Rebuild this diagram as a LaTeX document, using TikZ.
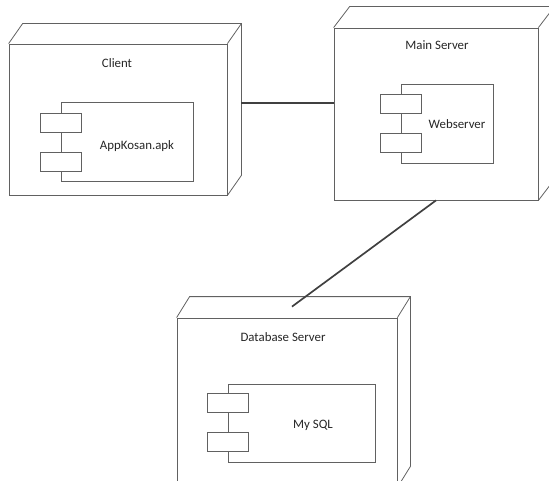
\documentclass[tikz,border=0pt]{standalone}
\usepackage{fontspec}
\setmainfont{Carlito}
\usetikzlibrary{calc}

% draws the top and right faces of a 3D deployment node
\newcommand\boxdepth[3]{%
  \draw[edge] (#1.north west) -- ++(#2,-#3) -| ($(#1.south east)+(#2,-#3)$) -- (#1.south east);
  \draw[edge] (#1.north east) -- ++(#2,-#3);
}

\begin{document}
\begin{tikzpicture}[x=1bp,y=-1bp,
  edge/.style={draw=black!62, line width=0.8pt},
  face/.style={edge, rectangle, inner sep=0pt},
  port/.style={face, fill=white, minimum width=41bp, minimum height=19bp},
  label/.style={font=\fontsize{12.9}{15}\selectfont, text=black!85},
  conn/.style={draw=black!75, line width=1.7pt}
]
\useasboundingbox (0,0) rectangle (549,481);

% Client
\node[face, minimum width=218bp, minimum height=151bp] (client) at (118,119.5) {};
\boxdepth{client}{14}{20}
\node[label] (client-title) at (117,63) {Client};
\node[face, minimum width=132bp, minimum height=79bp] (app) at (127,141.5) {};
\node[port] (app-p1) at (61,122.5) {};
\node[port] (app-p2) at (61,161.5) {};
\node[label] (app-label) at (137,146) {AppKosan.apk};

% Main Server
\node[face, minimum width=204bp, minimum height=172bp] (main) at (436,114) {};
\boxdepth{main}{16}{21}
\node[label] (main-title) at (437,45) {Main Server};
\node[face, minimum width=92bp, minimum height=79bp] (web) at (447,123.5) {};
\node[port] (web-p1) at (401,103.5) {};
\node[port] (web-p2) at (401,142.5) {};
\node[label] (web-label) at (457,124) {Webserver};

% Database Server
\node[face, minimum width=220bp, minimum height=169bp] (db) at (287,402.5) {};
\boxdepth{db}{13}{21}
\node[label] (db-title) at (283,337) {Database Server};
\node[face, minimum width=147bp, minimum height=78bp] (sql) at (301.5,423) {};
\node[port] (sql-p1) at (228,403) {};
\node[port] (sql-p2) at (228,442) {};
\node[label] (sql-label) at (313,425) {My SQL};

% connectors between the deployment nodes
\coordinate (client-side) at ($(client.east)+(14,0)$);
\draw[conn] ([yshift=11bp]main.west) -- ([yshift=11bp]main.west -| client-side);
\draw[conn] (main.south) -- ([shift={(5,-11)}]db.north);
\end{tikzpicture}
\end{document}
